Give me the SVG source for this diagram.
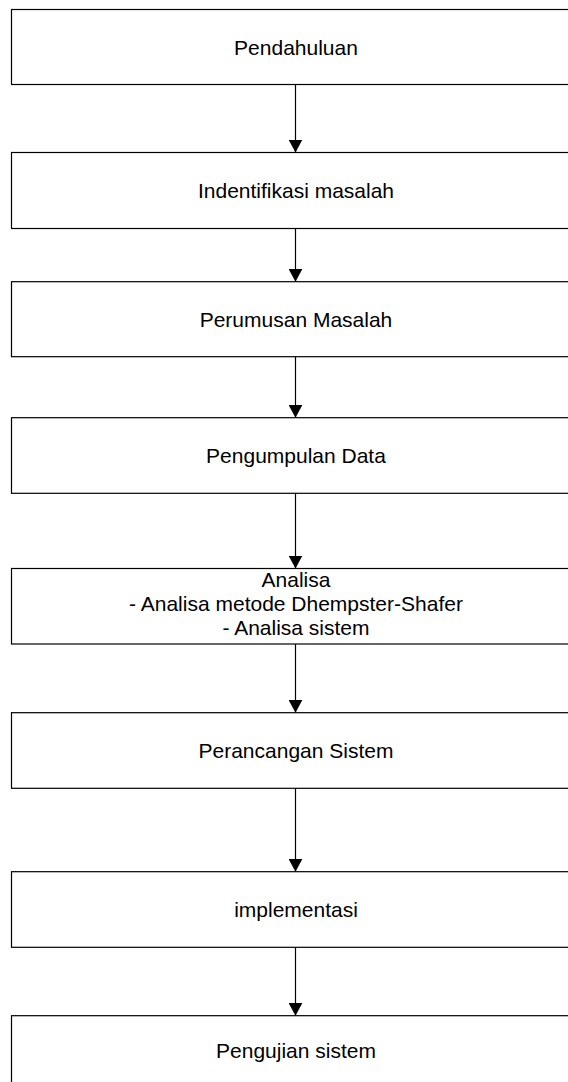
<svg xmlns="http://www.w3.org/2000/svg" width="568" height="1082" viewBox="0 0 568 1082">
<style>
.box{fill:#fff;stroke:#000;stroke-width:1.2}
.t{font-family:"Liberation Sans",Arial,sans-serif;font-size:21px;fill:#000;text-anchor:middle}
.c{stroke:#000;stroke-width:1.2;fill:none;marker-end:url(#ah)}
</style>
<defs>
<marker id="ah" markerUnits="userSpaceOnUse" markerWidth="14" markerHeight="14" refX="13" refY="7" orient="auto">
<path d="M0,0 L13,7 L0,14 z" fill="#000"/>
</marker>
</defs>
<rect width="568" height="1082" fill="#fff"/>
<g id="connectors">
<line class="c" x1="295.5" y1="84.5" x2="295.5" y2="152.5"/>
<line class="c" x1="295.5" y1="228.5" x2="295.5" y2="281.7"/>
<line class="c" x1="295.5" y1="356.7" x2="295.5" y2="417.7"/>
<line class="c" x1="295.5" y1="493.3" x2="295.5" y2="568.5"/>
<line class="c" x1="295.5" y1="644" x2="295.5" y2="712.7"/>
<line class="c" x1="295.5" y1="788.3" x2="295.5" y2="871.7"/>
<line class="c" x1="295.5" y1="947.3" x2="295.5" y2="1015.7"/>
</g>
<g id="n1"><rect class="box" x="11.5" y="9.5" width="600" height="75"/><text class="t" x="296" y="54.5">Pendahuluan</text></g>
<g id="n2"><rect class="box" x="11.5" y="152.5" width="600" height="76"/><text class="t" x="296" y="198">Indentifikasi masalah</text></g>
<g id="n3"><rect class="box" x="11.5" y="281.7" width="600" height="75"/><text class="t" x="296" y="326.7">Perumusan Masalah</text></g>
<g id="n4"><rect class="box" x="11.5" y="417.7" width="600" height="75.6"/><text class="t" x="296" y="463">Pengumpulan Data</text></g>
<g id="n5"><rect class="box" x="11.5" y="568.5" width="600" height="75.5"/><text class="t" x="296" y="586.5">Analisa</text><text class="t" x="296" y="610.5">- Analisa metode Dhempster-Shafer</text><text class="t" x="296" y="634.5">- Analisa sistem</text></g>
<g id="n6"><rect class="box" x="11.5" y="712.7" width="600" height="75.6"/><text class="t" x="296" y="758">Perancangan Sistem</text></g>
<g id="n7"><rect class="box" x="11.5" y="871.7" width="600" height="75.6"/><text class="t" x="296" y="917">implementasi</text></g>
<g id="n8"><rect class="box" x="11.5" y="1015.7" width="600" height="90"/><text class="t" x="296" y="1058">Pengujian sistem</text></g>
</svg>
